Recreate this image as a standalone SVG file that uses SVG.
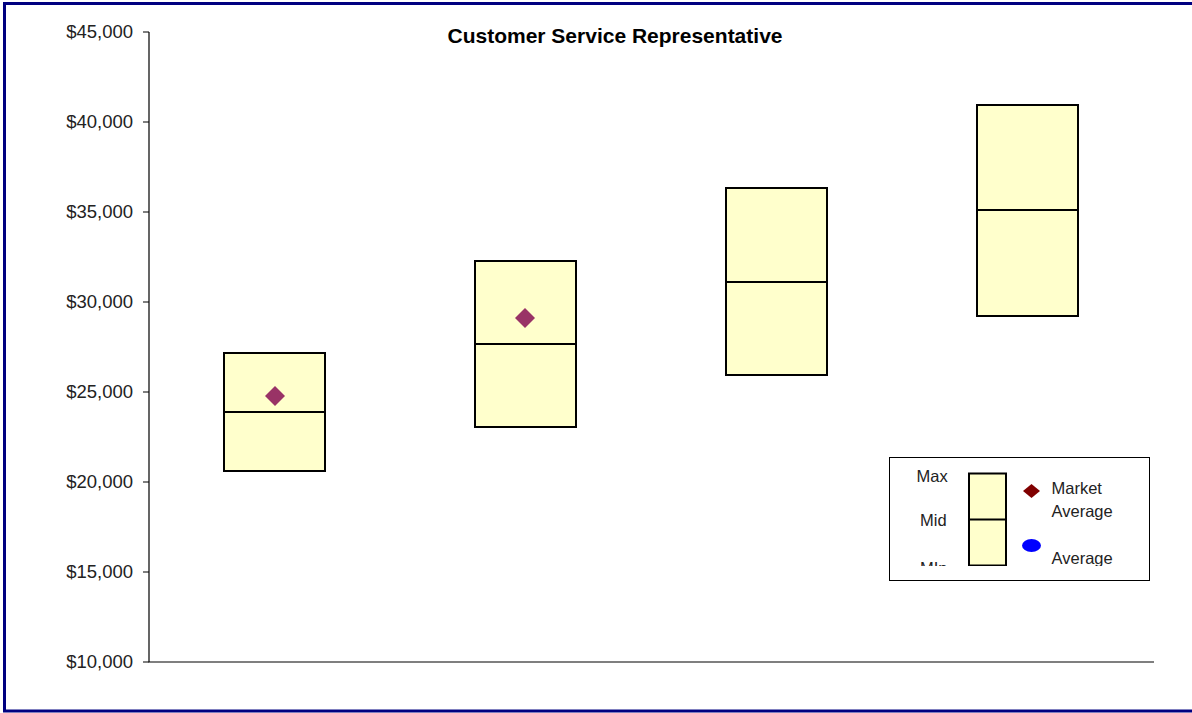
<svg xmlns="http://www.w3.org/2000/svg" width="1192" height="713" viewBox="0 0 1192 713">
<style>
.lbl{font-family:"Liberation Sans",Arial,sans-serif;font-size:18.5px;fill:#222}
.leg{font-family:"Liberation Sans",Arial,sans-serif;font-size:16.5px;fill:#222}
.title{font-family:"Liberation Sans",Arial,sans-serif;font-size:21px;font-weight:bold;fill:#000}
.box{fill:#FFFFCC;stroke:#000;stroke-width:2}
.mid{stroke:#000;stroke-width:2}
.ax{stroke:#000;stroke-width:1.2;fill:none}
.mk{fill:#993366}
</style>
<defs><clipPath id="lc"><rect x="890" y="458" width="259" height="108"/></clipPath></defs>
<rect x="0" y="0" width="1192" height="713" fill="#fff"/>
<rect x="4.5" y="3.5" width="1200" height="707.5" fill="none" stroke="#000080" stroke-width="3"/>
<text class="title" x="615" y="43" text-anchor="middle">Customer Service Representative</text>
<g id="axes">
<path class="ax" d="M149,32V662H1154"/>
<path class="ax" d="M143,32H149M143,122H149M143,212H149M143,302H149M143,392H149M143,482H149M143,572H149M143,662H149"/>
<g class="lbl" text-anchor="end">
<text x="133" y="37.5">$45,000</text>
<text x="133" y="127.5">$40,000</text>
<text x="133" y="217.5">$35,000</text>
<text x="133" y="307.5">$30,000</text>
<text x="133" y="397.5">$25,000</text>
<text x="133" y="487.5">$20,000</text>
<text x="133" y="577.5">$15,000</text>
<text x="133" y="667.5">$10,000</text>
</g>
</g>
<g id="bar1"><rect class="box" x="224" y="353" width="101" height="118"/><line class="mid" x1="224" y1="412" x2="325" y2="412"/><path class="mk" d="M275,386L285,396L275,406L265,396Z"/></g>
<g id="bar2"><rect class="box" x="475" y="261" width="101" height="166"/><line class="mid" x1="475" y1="344" x2="576" y2="344"/><path class="mk" d="M525,308L535,318L525,328L515,318Z"/></g>
<g id="bar3"><rect class="box" x="726" y="188" width="101" height="187"/><line class="mid" x1="726" y1="282" x2="827" y2="282"/></g>
<g id="bar4"><rect class="box" x="977" y="105" width="101" height="211"/><line class="mid" x1="977" y1="210" x2="1078" y2="210"/></g>
<g id="legend">
<rect x="889.5" y="457.5" width="260" height="123" fill="#fff" stroke="#000" stroke-width="1"/>
<g clip-path="url(#lc)">
<text class="leg" x="916.5" y="482">Max</text>
<text class="leg" x="920" y="526">Mid</text>
<text class="leg" x="920" y="574">MIn</text>
<rect class="box" x="969" y="473.5" width="37" height="92"/>
<line class="mid" x1="969" y1="519.5" x2="1006" y2="519.5"/>
<path d="M1031.5,484L1040,491L1031.5,498L1023,491Z" fill="#800000"/>
<ellipse cx="1031.5" cy="545.5" rx="9.5" ry="6.5" fill="#0000FF"/>
<text class="leg" x="1051.5" y="494">Market</text>
<text class="leg" x="1051.5" y="517">Average</text>
<text class="leg" x="1051.5" y="564">Average</text>
</g>
</g>
</svg>
